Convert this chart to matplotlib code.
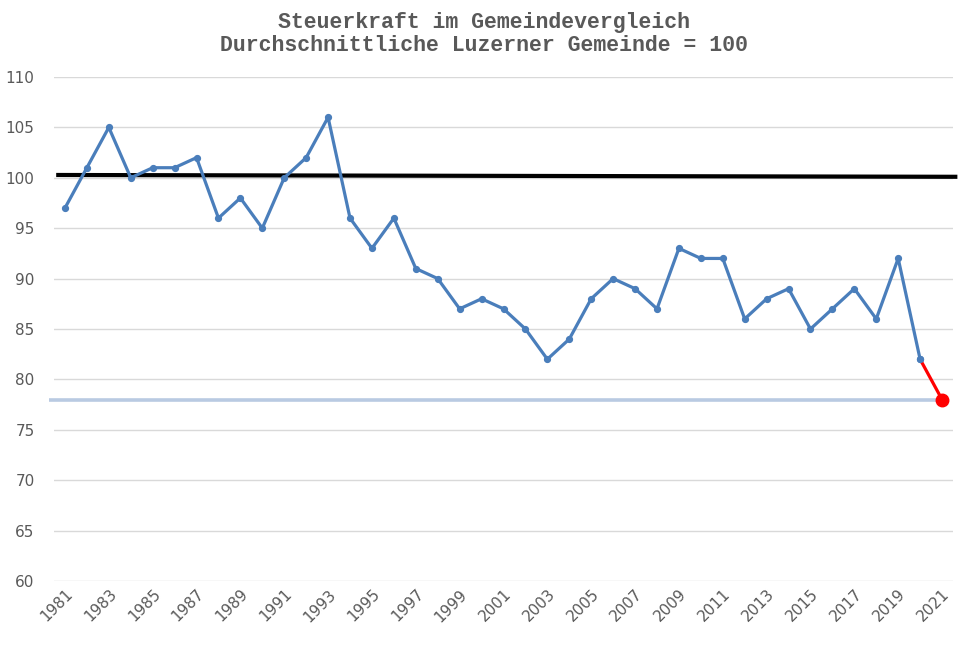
import matplotlib
matplotlib.use("Agg")
import matplotlib.pyplot as plt

plt.rcParams["font.family"] = ["DejaVu Sans"]

years = list(range(1981, 2022))
values = [97, 101, 105, 100, 101, 101, 102, 96, 98, 95,
          100, 102, 106, 96, 93, 96, 91, 90, 87, 88,
          87, 85, 82, 84, 88, 90, 89, 87, 93, 92,
          92, 86, 88, 89, 85, 87, 89, 86, 92, 82,
          78]
tick_years = list(range(1981, 2022, 2))
y_ticks = list(range(60, 111, 5))
avg_line_values = [100.28, 100.1]   # black reference line (left, right)
avg_line_years = [1980.6, 2021.7]
floor_value = 78                    # light blue line at the latest value
title = "Steuerkraft im Gemeindevergleich\nDurchschnittliche Luzerner Gemeinde = 100"

fig = plt.figure(figsize=(9.68, 6.45), dpi=100)
ax = fig.add_axes([54/968, 1-581/645, (953-54)/968, (581-77)/645])

ax.set_xlim(1980.5, 2021.5)
ax.set_ylim(60, 110)
ax.set_yticks(y_ticks)
ax.set_xticks(tick_years)
ax.set_xticklabels([str(y) for y in tick_years])
ax.grid(axis="y", color="#d9d9d9", linewidth=1.0)
ax.set_axisbelow(True)
for s in ax.spines.values():
    s.set_visible(False)
ax.tick_params(length=0, colors="#595959", labelsize=11)
ax.tick_params(axis="y", pad=14)
ax.tick_params(axis="x", pad=4)
for lab in ax.get_yticklabels() + ax.get_xticklabels():
    lab.set_family("DejaVu Sans")
for lab in ax.get_xticklabels():
    lab.set_rotation(45)
    lab.set_ha("right")
    lab.set_rotation_mode("anchor")

# light blue line at latest value
ax.plot([1980.27, years[-1]], [floor_value, floor_value], color="#b9cae2",
        linewidth=2.6, clip_on=False, zorder=2, solid_capstyle="butt")

# black average line
ax.plot(avg_line_years, avg_line_values, color="black", linewidth=3.0,
        clip_on=False, zorder=3, solid_capstyle="butt")

# main series
ax.plot(years[:-1], values[:-1], color="#4a7ebb", linewidth=2.3,
        marker="o", markersize=4.2, zorder=4)
# red last segment
ax.plot(years[-2:], values[-2:], color="#ff0000", linewidth=2.3, zorder=5)
ax.plot(years[-2], values[-2], "o", color="#4a7ebb", markersize=4.2, zorder=6)
ax.plot(years[-1], values[-1], "o", color="#ff0000", markersize=9, zorder=6,
        clip_on=False)

fig.text(0.5, 1-34/645, title, ha="center", va="center",
         family="Liberation Mono", weight="bold", fontsize=15.5,
         color="#595959", linespacing=1.12)

fig.savefig("out.png", dpi=100)
